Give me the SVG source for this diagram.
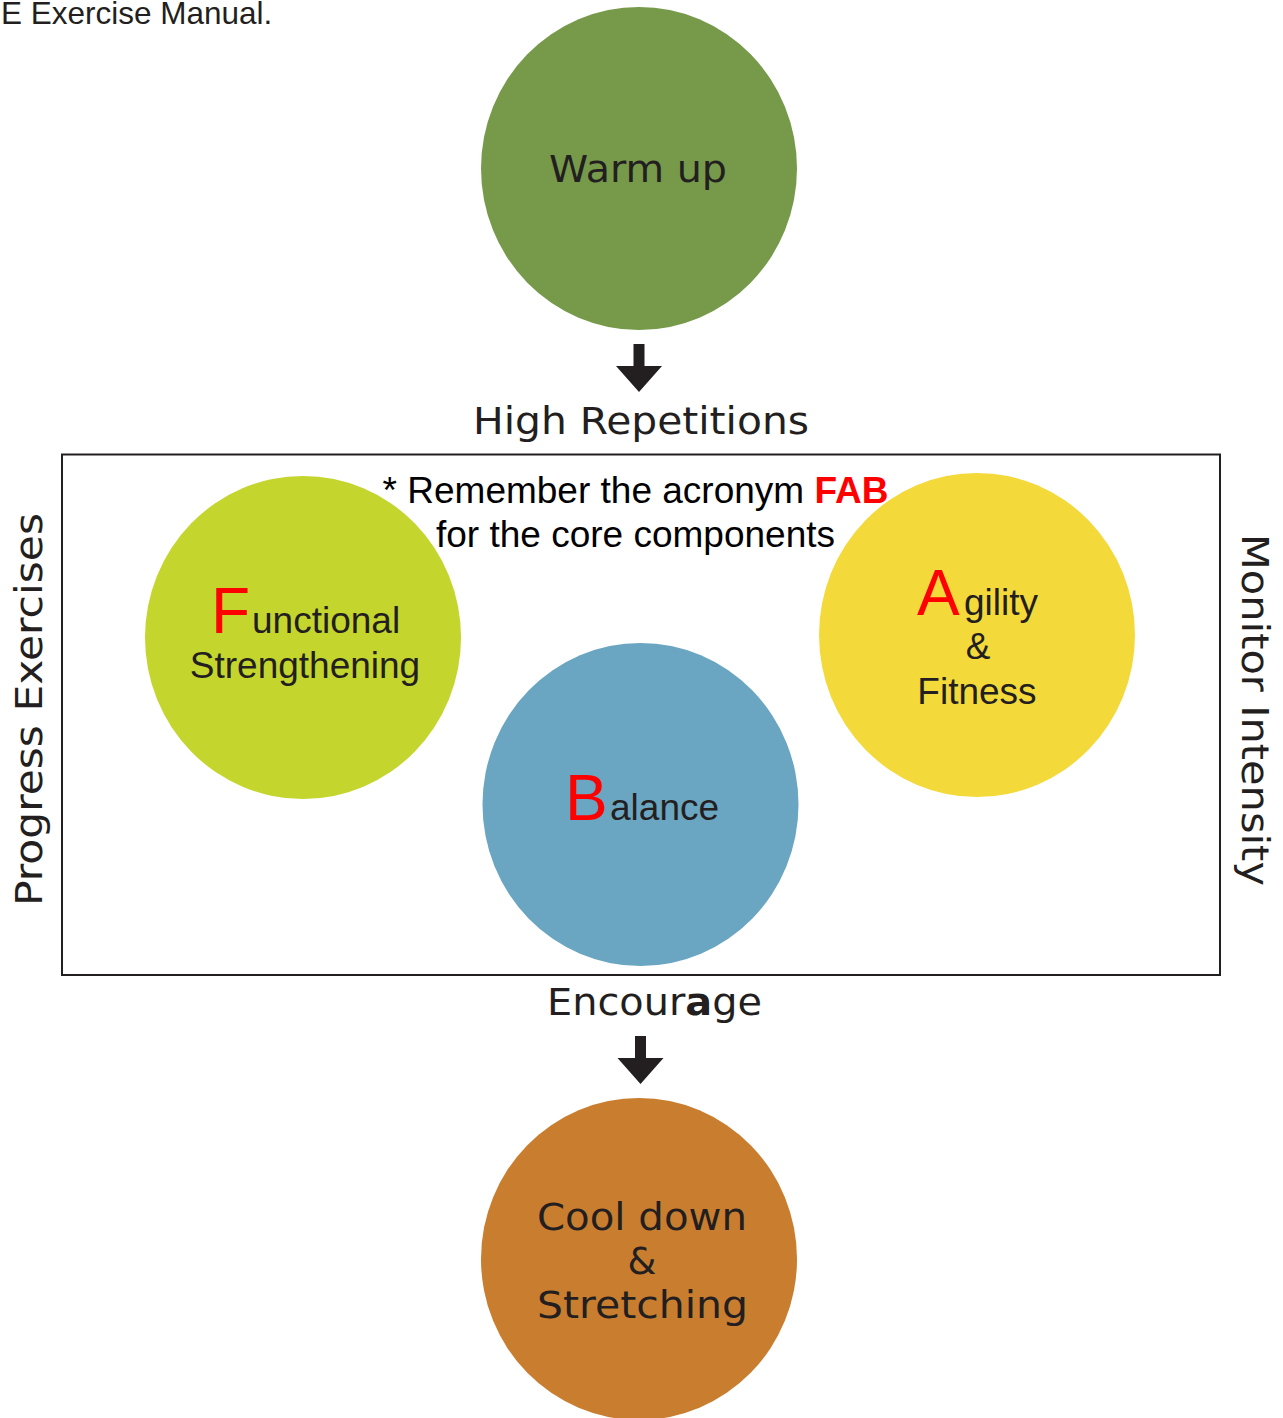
<svg xmlns="http://www.w3.org/2000/svg" width="1283" height="1418" viewBox="0 0 1283 1418">
<style>
.geo{font-family:"DejaVu Sans","Noto Sans",sans-serif;font-size:37px;fill:#231f20}
.ar{font-family:"Liberation Sans",Arial,sans-serif;font-size:37px;fill:#231f20}
.big{font-family:"Liberation Sans",Arial,sans-serif;font-size:64px;fill:#ff0000}
.arrow{fill:#231f20}
</style>
<rect width="1283" height="1418" fill="#ffffff"/>
<text class="ar" x="1" y="24" style="font-size:31.5px">E Exercise Manual.</text>
<g id="frame">
<rect x="62" y="454.5" width="1158" height="520.5" fill="none" stroke="#231f20" stroke-width="2"/>
</g>
<g id="connectors">
<path class="arrow" d="M633.5 344H644.5V366H662L639 392L616 366H633.5Z"/>
<path class="arrow" d="M635 1036H646V1058H663.5L640.5 1084L617.5 1058H635Z"/>
</g>
<g id="warmup">
<ellipse cx="639" cy="168.5" rx="158" ry="161.5" fill="#769a4a"/>
<text class="geo" x="549" y="182" textLength="178" lengthAdjust="spacingAndGlyphs">Warm up</text>
</g>
<g id="high-repetitions">
<text class="geo" x="473" y="434" textLength="336" lengthAdjust="spacingAndGlyphs">High Repetitions</text>
</g>
<g id="functional">
<ellipse cx="303" cy="637.5" rx="158" ry="161.5" fill="#c4d52e"/>
<text class="big" x="211" y="633">F</text>
<text class="ar" x="252" y="633">unctional</text>
<text class="ar" x="305" y="678" text-anchor="middle">Strengthening</text>
</g>
<g id="agility">
<ellipse cx="977" cy="635" rx="158" ry="162" fill="#f4d93b"/>
<text class="big" x="917" y="615">A</text>
<text class="ar" x="964" y="615">gility</text>
<text class="ar" x="978" y="659" text-anchor="middle">&amp;</text>
<text class="ar" x="977" y="704" text-anchor="middle">Fitness</text>
</g>
<g id="balance">
<ellipse cx="640.5" cy="804.5" rx="158" ry="161.5" fill="#6aa5c1"/>
<text class="big" x="565" y="820">B</text>
<text class="ar" x="610" y="820">alance</text>
</g>
<g id="note">
<text class="ar" x="635.5" y="503" text-anchor="middle" style="fill:#000">* Remember the acronym <tspan font-weight="bold" style="fill:#ff0000">FAB</tspan></text>
<text class="ar" x="635.5" y="547" text-anchor="middle" style="fill:#000">for the core components</text>
</g>
<g id="encourage">
<text class="geo" x="547" y="1015" textLength="215" lengthAdjust="spacingAndGlyphs">Encour<tspan font-weight="bold">a</tspan>ge</text>
</g>
<g id="cooldown">
<ellipse cx="639" cy="1259" rx="158" ry="161" fill="#c97d2f"/>
<text class="geo" x="537" y="1230" textLength="210" lengthAdjust="spacingAndGlyphs">Cool down</text>
<text class="geo" x="642" y="1274" text-anchor="middle">&amp;</text>
<text class="geo" x="537" y="1318" textLength="211" lengthAdjust="spacingAndGlyphs">Stretching</text>
</g>
<g id="progress">
<text class="geo" transform="translate(42,906) rotate(-90)" x="0" y="0" textLength="393" lengthAdjust="spacingAndGlyphs">Progress Exercises</text>
</g>
<g id="monitor">
<text class="geo" transform="translate(1242,534) rotate(90)" x="0" y="0" textLength="352" lengthAdjust="spacingAndGlyphs">Monitor Intensity</text>
</g>
</svg>
